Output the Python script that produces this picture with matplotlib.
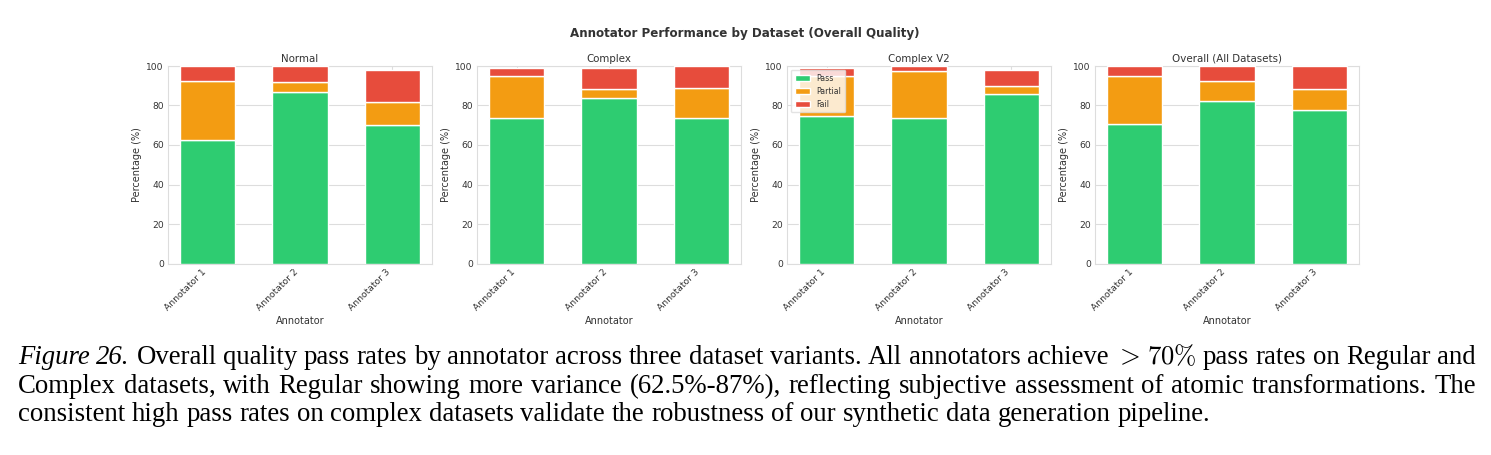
import matplotlib
matplotlib.use("Agg")
import matplotlib.pyplot as plt
import numpy as np

# ---------------- data ----------------
annotators = ["Annotator 1", "Annotator 2", "Annotator 3"]
panel_titles = ["Normal", "Complex", "Complex V2", "Overall (All Datasets)"]
# segment values (%) per panel: pass, partial, fail
pass_vals = [
    [62.5, 87.0, 70.0],
    [73.8, 84.0, 73.8],
    [74.8, 73.6, 85.6],
    [70.8, 82.3, 77.7],
]
partial_vals = [
    [30.0, 5.0, 12.0],
    [21.3, 4.3, 15.2],
    [20.3, 24.0, 4.4],
    [24.1, 10.3, 10.5],
]
fail_vals = [
    [7.5, 8.0, 15.8],
    [3.7, 10.5, 11.0],
    [3.7, 2.4, 7.8],
    [5.1, 7.4, 11.8],
]
series_names = ["Pass", "Partial", "Fail"]
colors = ["#2ecc71", "#f39c12", "#e74c3c"]

suptitle = "Annotator Performance by Dataset (Overall Quality)"
# (word, italic?)
caption_lines = [
    [("Figure", True), ("26.", True), ("Overall", False), ("quality", False), ("pass", False),
     ("rates", False), ("by", False), ("annotator", False), ("across", False), ("three", False),
     ("dataset", False), ("variants.", False), ("All", False), ("annotators", False),
     ("achieve", False), ("$>$", False), ("$70\\%$", False), ("pass", False), ("rates", False),
     ("on", False), ("Regular", False), ("and", False)],
    [("Complex", False), ("datasets,", False), ("with", False), ("Regular", False),
     ("showing", False), ("more", False), ("variance", False), ("(62.5%-87%),", False),
     ("reflecting", False), ("subjective", False), ("assessment", False), ("of", False),
     ("atomic", False), ("transformations.", False), ("The", False)],
    [("consistent", False), ("high", False), ("pass", False), ("rates", False), ("on", False),
     ("complex", False), ("datasets", False), ("validate", False), ("the", False),
     ("robustness", False), ("of", False), ("our", False), ("synthetic", False), ("data", False),
     ("generation", False), ("pipeline.", False)],
]

# ---------------- style ----------------
plt.rcParams["font.family"] = ["DejaVu Sans"]
plt.rcParams["mathtext.fontset"] = "cm"
W, H = 1491, 455
fig = plt.figure(figsize=(W / 100, H / 100), dpi=100)
fig.patch.set_facecolor("white")

text_col = "#333333"
grid_col = "#dddddd"

lefts = [168, 477, 787, 1095]
ax_w = 264
top_px, bot_px = 66, 263.5

x = np.arange(len(annotators))
for i, (left, title) in enumerate(zip(lefts, panel_titles)):
    ax = fig.add_axes([left / W, 1 - bot_px / H, ax_w / W, (bot_px - top_px) / H])
    ax.set_facecolor("white")
    p = np.array(pass_vals[i])
    q = np.array(partial_vals[i])
    f = np.array(fail_vals[i])
    ax.bar(x, p, 0.6, color=colors[0], edgecolor="white", linewidth=1.0, label=series_names[0], zorder=3)
    ax.bar(x, q, 0.6, bottom=p, color=colors[1], edgecolor="white", linewidth=1.0, label=series_names[1], zorder=3)
    ax.bar(x, f, 0.6, bottom=p + q, color=colors[2], edgecolor="white", linewidth=1.0, label=series_names[2], zorder=3)
    ax.set_ylim(0, 100)
    ax.set_yticks([0, 20, 40, 60, 80, 100])
    ax.set_xticks(x)
    ax.set_xticklabels(annotators, rotation=45, ha="right", rotation_mode="default")
    ax.tick_params(axis="both", labelsize=6.6, colors=text_col, length=0, pad=3)
    ax.grid(True, axis="both", color=grid_col, linewidth=0.8, zorder=0)
    for s in ax.spines.values():
        s.set_color(grid_col)
        s.set_linewidth(0.8)
    ax.set_title(title, fontsize=7.4, color=text_col, pad=3)
    ax.set_xlabel("Annotator", fontsize=7.0, color=text_col, labelpad=2)
    ax.set_ylabel("Percentage (%)", fontsize=7.0, color=text_col, labelpad=3)
    if i == 2:
        ax.legend(loc="upper left", fontsize=5.6, frameon=True, framealpha=0.8,
                  edgecolor=grid_col, handlelength=2.0, borderpad=0.5, labelspacing=0.5,
                  labelcolor=text_col, bbox_to_anchor=(0.0, 1.0))

fig.text(745 / W, 1 - 33 / H, suptitle, ha="center", va="center",
         fontsize=8.6, fontweight="bold", color=text_col)

# ---------------- caption (justified) ----------------
cap_font = "Liberation Serif"
cap_size = 19.3
x0, x1 = 18, 1476
baselines = [364, 393, 421]
renderer = fig.canvas.get_renderer()
for li, words in enumerate(caption_lines):
    objs = []
    widths = []
    for w, it in words:
        t = fig.text(0, 0, w, fontsize=cap_size, family=cap_font, color="black",
                     style="italic" if it else "normal", ha="left", va="baseline")
        objs.append(t)
        widths.append(t.get_window_extent(renderer).width)
    if li < 2:
        gap = (x1 - x0 - sum(widths)) / (len(words) - 1)
    else:
        sp = fig.text(0, 0, "a a", fontsize=cap_size, family=cap_font)
        sa = fig.text(0, 0, "aa", fontsize=cap_size, family=cap_font)
        gap = sp.get_window_extent(renderer).width - sa.get_window_extent(renderer).width
        sp.remove(); sa.remove()
    cx = x0
    for t, wd in zip(objs, widths):
        t.set_position((cx / W, 1 - baselines[li] / H))
        cx += wd + gap

fig.savefig("out.png", dpi=100, facecolor="white")
